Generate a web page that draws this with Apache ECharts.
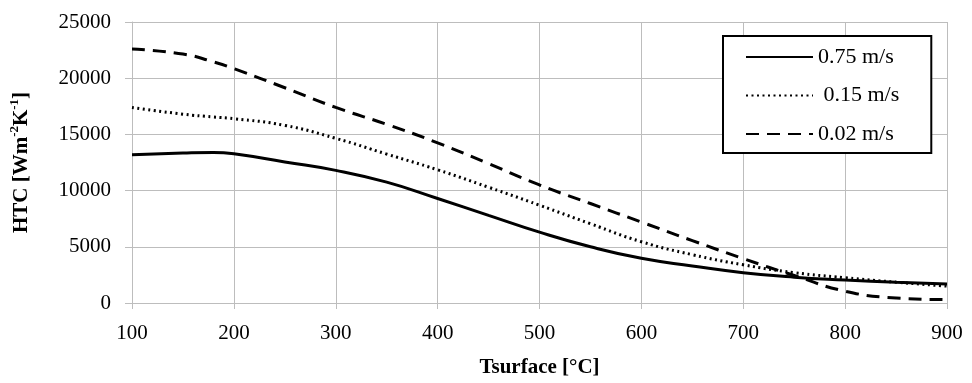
<!DOCTYPE html>
<html>
<head>
<meta charset="utf-8">
<script src="https://cdn.jsdelivr.net/npm/echarts@6/dist/echarts.min.js"></script>
<style>
  html, body { margin: 0; padding: 0; background: #fff; }
  #chart { width: 972px; height: 383px; }
</style>
</head>
<body>
<div id="chart"></div>
<script>
// surface temperature (°C)
const tsurface = [100, 150, 180, 200, 250, 300, 350, 400, 450, 500, 550, 600, 650, 700, 750, 800, 850, 900];

// HTC values (W m-2 K-1)
const htc075 = [13200, 13350, 13400, 13280, 12550, 11800, 10750, 9300, 7800, 6300, 5000, 3975, 3300, 2700, 2300, 2050, 1850, 1700];
const htc015 = [17400, 16800, 16550, 16400, 15800, 14650, 13250, 11850, 10300, 8700, 7050, 5450, 4300, 3400, 2700, 2250, 1850, 1500];
const htc002 = [22600, 22150, 21450, 20850, 19150, 17400, 15900, 14250, 12400, 10500, 8850, 7200, 5550, 3950, 2450, 1050, 450, 300];

const seriesNames = ['0.75 m/s', ' 0.15 m/s', '0.02 m/s'];
const xTicks = [100, 900, 100];   // min, max, interval
const yTicks = [0, 25000, 5000];

const pair = arr => tsurface.map((t, i) => [t, arr[i]]);

const serif = 'Liberation Serif, Times New Roman, serif';
const gridColor = '#bdbdbd';

const chart = echarts.init(document.getElementById('chart'));

chart.setOption({
  animation: false,
  backgroundColor: '#fff',
  grid: { left: 128, right: 25, top: 22, bottom: 78 },
  legend: {
    orient: 'vertical',
    left: 723,
    top: 36,
    padding: [10, 32, 8, 22],
    itemWidth: 67,
    itemHeight: 14,
    itemGap: 16.5,
    borderColor: '#000',
    borderWidth: 2,
    backgroundColor: '#fff',
    itemStyle: { color: 'transparent', borderColor: 'transparent', borderWidth: 0 },
    textStyle: { fontFamily: serif, fontSize: 22, color: '#000' },
    data: seriesNames,
  },
  xAxis: {
    type: 'value',
    min: xTicks[0], max: xTicks[1], interval: xTicks[2],
    name: 'Tsurface [°C]',
    nameLocation: 'middle',
    nameGap: 54,
    nameTextStyle: { fontFamily: serif, fontSize: 21, fontWeight: 'bold', color: '#000' },
    axisLine: { show: true, lineStyle: { color: gridColor, width: 1 } },
    axisTick: { show: true, length: 6, lineStyle: { color: gridColor } },
    axisLabel: { fontFamily: serif, fontSize: 21, color: '#000', margin: 20 },
    splitLine: { show: true, lineStyle: { color: gridColor, width: 1 } },
  },
  yAxis: {
    type: 'value',
    min: yTicks[0], max: yTicks[1], interval: yTicks[2],
    name: '{b|HTC [Wm}{s|-2}{b|K}{s|-1}{b|]}',
    nameLocation: 'middle',
    nameGap: 100,
    nameTextStyle: {
      rich: {
        b: { fontFamily: serif, fontSize: 21, fontWeight: 'bold', color: '#000', lineHeight: 24, verticalAlign: 'bottom' },
        s: { fontFamily: serif, fontSize: 13, fontWeight: 'bold', color: '#000', lineHeight: 24, verticalAlign: 'top' },
      },
    },
    axisLine: { show: true, lineStyle: { color: gridColor, width: 1 } },
    axisTick: { show: true, length: 7, lineStyle: { color: gridColor } },
    axisLabel: { fontFamily: serif, fontSize: 21, color: '#000', margin: 21, formatter: v => String(v) },
    splitLine: { show: true, lineStyle: { color: gridColor, width: 1 } },
  },
  series: [
    {
      name: seriesNames[0], type: 'line', smooth: true, symbol: 'none',
      lineStyle: { color: '#000', width: 3, type: 'solid' },
      itemStyle: { color: '#000' },
      data: pair(htc075),
    },
    {
      name: seriesNames[1], type: 'line', smooth: true, symbol: 'none',
      lineStyle: { color: '#000', width: 3, type: [2, 3.5] },
      itemStyle: { color: '#000' },
      data: pair(htc015),
    },
    {
      name: seriesNames[2], type: 'line', smooth: true, symbol: 'none',
      lineStyle: { color: '#000', width: 3, type: [13, 8] },
      itemStyle: { color: '#000' },
      data: pair(htc002),
    },
  ],
});
</script>
</body>
</html>
